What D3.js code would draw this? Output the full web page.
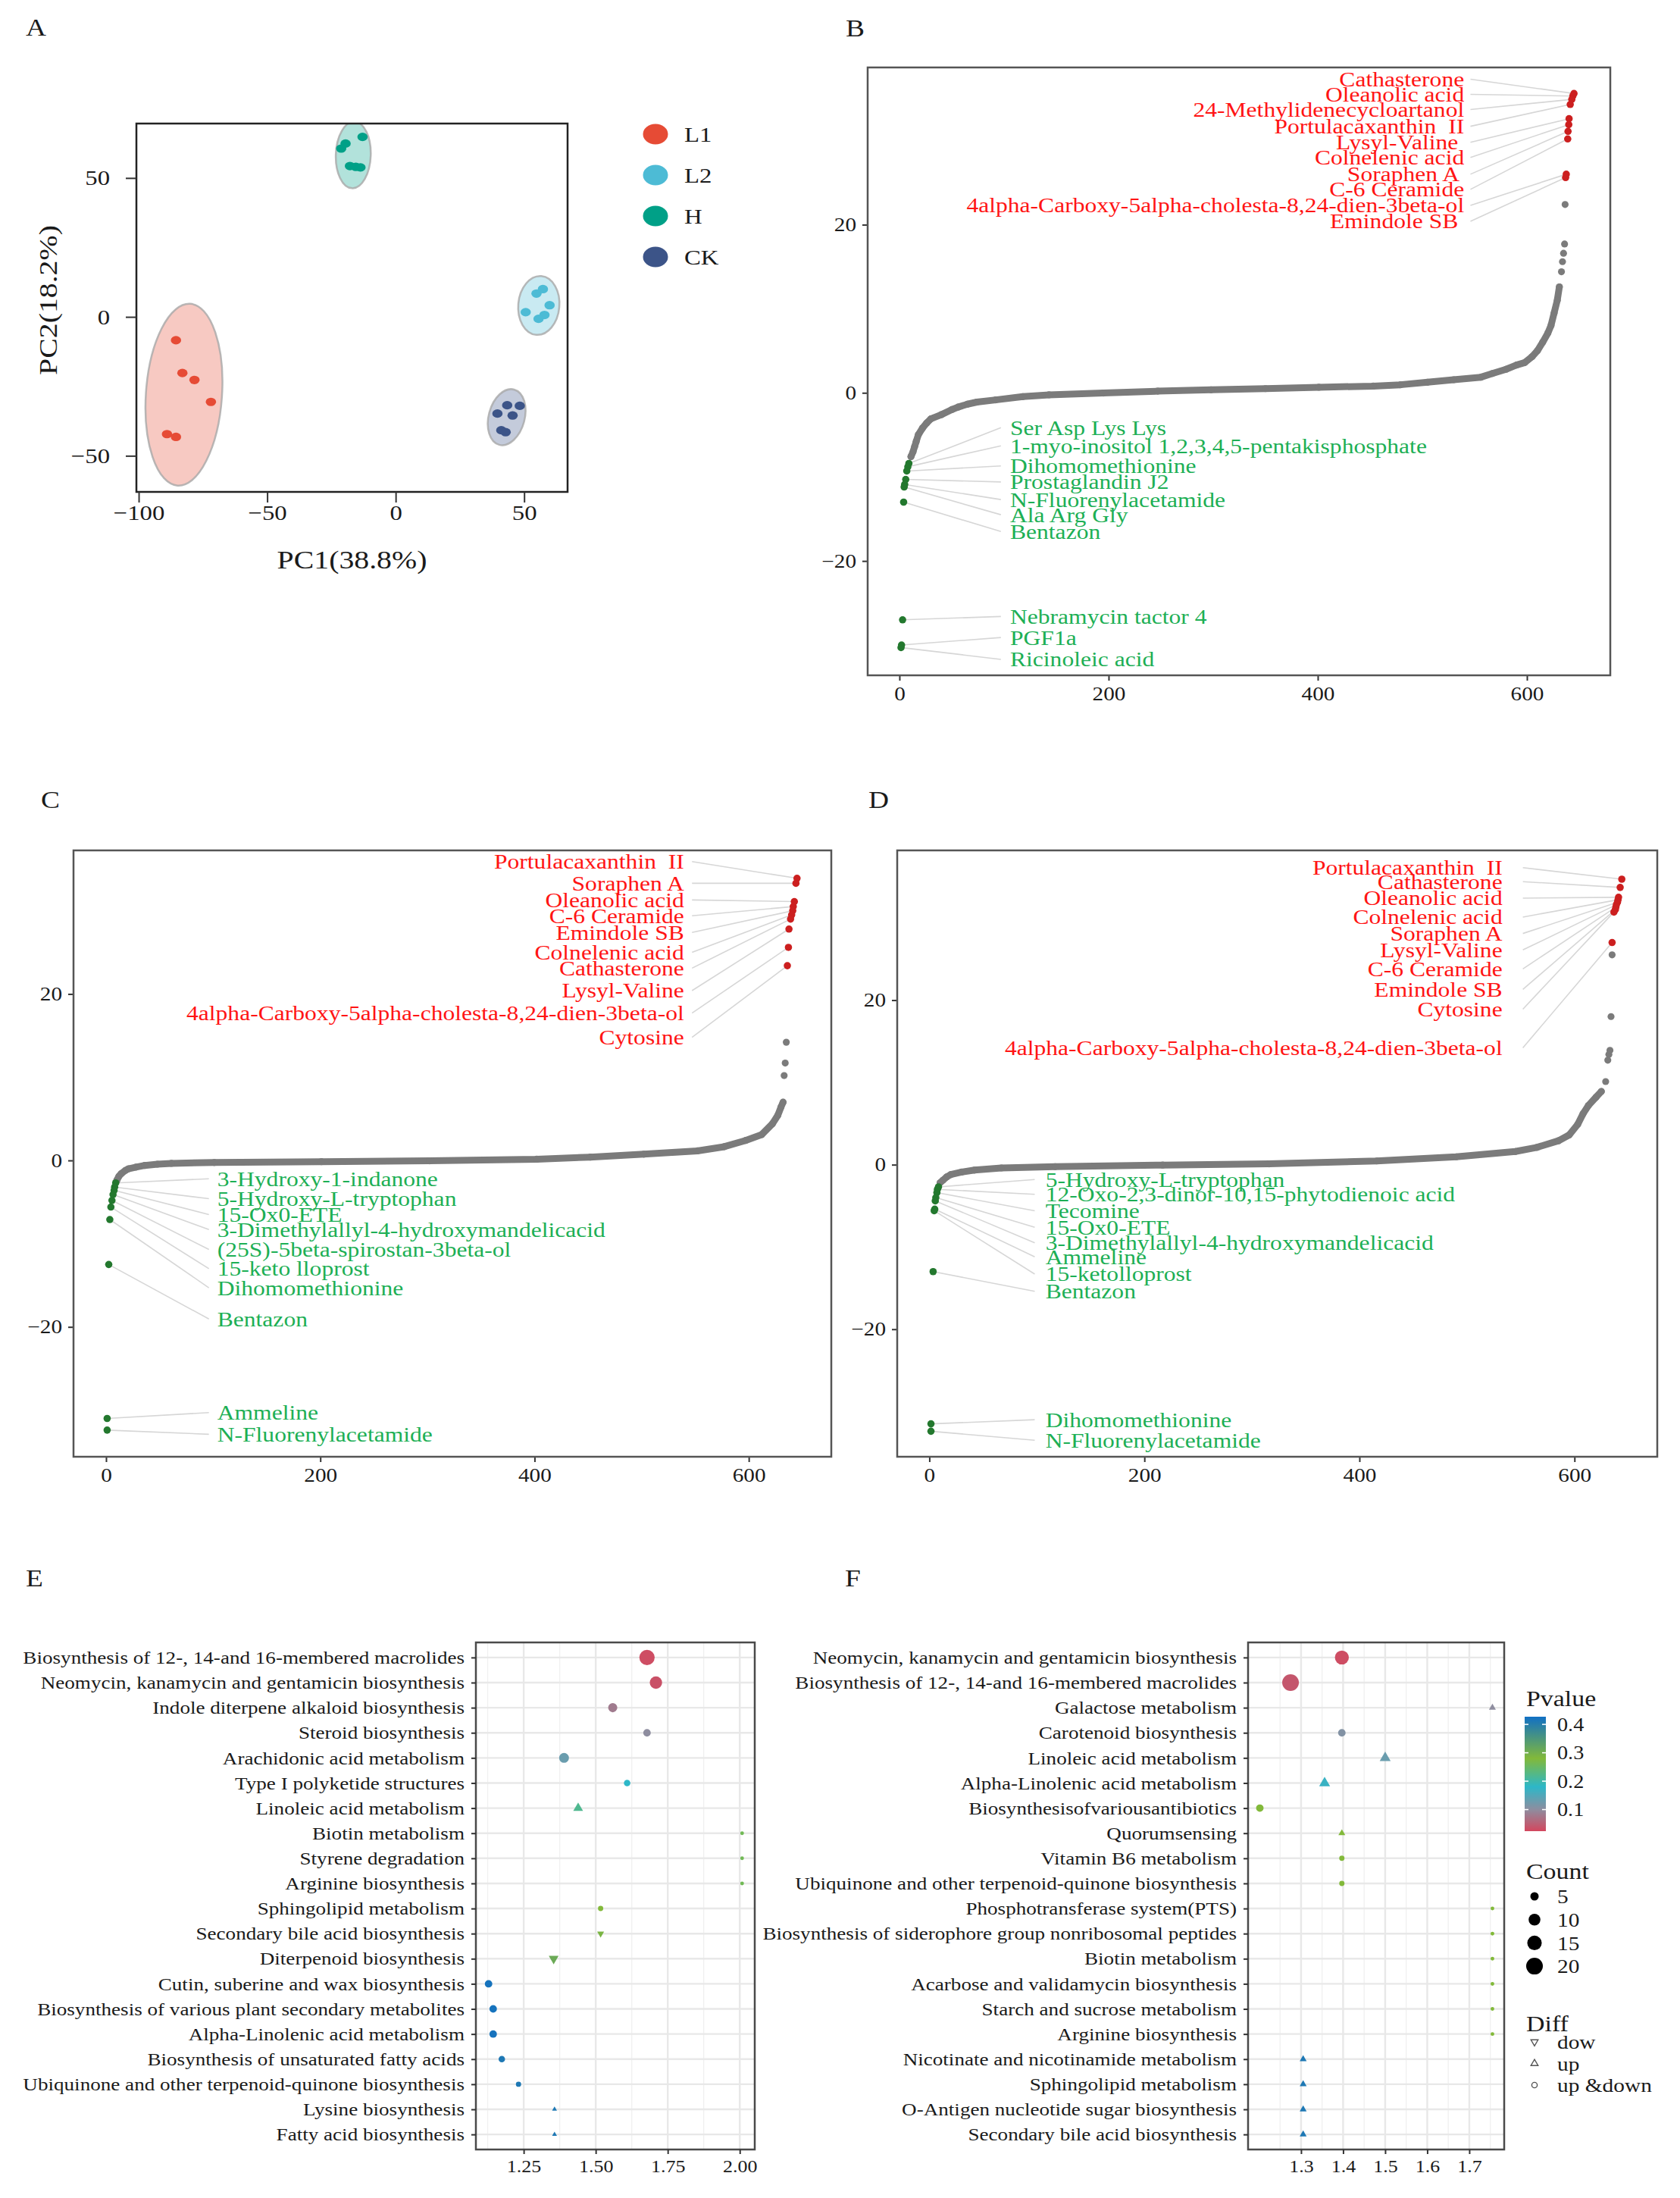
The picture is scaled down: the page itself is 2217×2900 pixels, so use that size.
<!DOCTYPE html>
<html lang="en">
<head>
<meta charset="utf-8">
<title>Metabolite PCA, fold-change ranks and pathway enrichment</title>
<style>
  body { margin: 0; background: #ffffff; }
  svg text { font-family: "Liberation Serif", "Times New Roman", Times, serif; white-space: pre; }
</style>
</head>
<body>
<div id="fig"></div>
<script src="https://cdn.jsdelivr.net/npm/d3@7"></script>
<script>

// ---------- data: panel A (PCA) ----------
var pcaGroups = ["L1", "L2", "H", "CK"];
var pcaColors = ["#E64B35", "#4DBBD5", "#00A087", "#3C5488"];
// [group, PC1, PC2]
var pcaSamples = [
  ["L1", -85.5, -8.4], ["L1", -83.0, -20.2], ["L1", -78.3, -22.7], ["L1", -71.9, -30.6], ["L1", -89.0, -42.2], ["L1", -85.5, -43.2],
  ["H", -21.2, 60.6], ["H", -19.5, 62.4], ["H", -12.9, 64.8], ["H", -17.8, 54.3], ["H", -15.5, 54.0], ["H", -13.7, 53.8],
  ["L2", 54.8, 8.4], ["L2", 57.3, 10.0], ["L2", 50.6, 1.7], ["L2", 59.9, 4.2], ["L2", 57.9, 0.7], ["L2", 55.6, -0.7],
  ["CK", 43.4, -31.8], ["CK", 48.3, -32.0], ["CK", 39.6, -34.8], ["CK", 45.5, -35.5], ["CK", 41.1, -40.8], ["CK", 42.8, -41.5]
];
// confidence ellipses, in group order L1, L2, H, CK
var ellCenterX = [-82.4, 55.7, -16.5, 43.2];
var ellCenterY = [-28.0, 4.1, 58.3, -36.1];
var ellSemiX = [14.8, 8.0, 6.8, 7.0];
var ellSemiY = [32.8, 10.6, 12.0, 10.3];
var ellTilt = [4, 5, 2, 15];
var pcaXTicks = [-100, -50, 0, 50];
var pcaYTicks = [-50, 0, 50];

// ---------- data: panels B, C, D (ranked fold change) ----------
var rankTicks = [0, 200, 400, 600];
var foldTicks = [-20, 0, 20];

var bBand = [[11,-7.6],[13,-7.0],[14.5,-6.4],[16,-5.8],[18,-5.0],[22,-4.2],[26,-3.6],[30,-3.1],[40,-2.6],[50,-2.0],[56,-1.7],[65,-1.35],[74,-1.1],[92,-0.84],[118,-0.45],[143,-0.24],[195,-0.03],[247,0.2],[298,0.36],[350,0.5],[401,0.66],[453,0.8],[479,0.96],[505,1.26],[530,1.56],[556,1.86],[567,2.3],[580,2.8],[590,3.3],[598,3.6],[605,4.3],[610,5.0],[615,6.0],[620,7.1],[623,8.0],[626,9.5],[629,11.0],[631,12.6]];
var bLoose = [[633,14.4],[634,15.6],[635,16.6],[636,17.7],[636.5,22.4]];
var bUpNames = ["Cathasterone", "Oleanolic acid", "24-Methylidenecycloartanol", "Portulacaxanthin  II", "Lysyl-Valine ", "Colnelenic acid", "Soraphen A ", "C-6 Ceramide", "4alpha-Carboxy-5alpha-cholesta-8,24-dien-3beta-ol", "Emindole SB "];
var bUpRank = [645, 643.9, 642.9, 641.4, 640.3, 640, 639.3, 639, 637.6, 637];
var bUpValue = [35.6, 35.3, 34.9, 34.3, 32.6, 31.9, 31.1, 30.2, 26.0, 25.6];
var bDownNames = ["Ser Asp Lys Lys", "1-myo-inositol 1,2,3,4,5-pentakisphosphate", "Dihomomethionine", "Prostaglandin J2", "N-Fluorenylacetamide", "Ala Arg Gly", "Bentazon", "Nebramycin tactor 4", "PGF1a", "Ricinoleic acid"];
var bDownRank = [9, 8, 7, 6, 5, 4.5, 4, 3, 2, 1.5];
var bDownValue = [-8.4, -8.8, -9.3, -10.3, -10.9, -11.2, -13.0, -27.0, -30.0, -30.3];

var cBand = [[10,-2.4],[12,-1.9],[14,-1.6],[18,-1.2],[21,-1.0],[28,-0.8],[36,-0.6],[48,-0.45],[61,-0.35],[101,-0.25],[201,-0.15],[302,-0.05],[402,0.15],[452,0.4],[502,0.75],[552,1.15],[577,1.65],[597,2.4],[612,3.1],[622,4.4],[627,5.4],[630,6.4],[632,7.0]];
var cLoose = [[633,10.2],[634,11.7],[635,14.2]];
var cUpNames = ["Portulacaxanthin  II", "Soraphen A", "Oleanolic acid", "C-6 Ceramide", "Emindole SB", "Colnelenic acid", "Cathasterone", "Lysyl-Valine", "4alpha-Carboxy-5alpha-cholesta-8,24-dien-3beta-ol", "Cytosine"];
var cUpRank = [645, 644, 642.5, 641.5, 641, 640, 639, 637.5, 637, 636];
var cUpValue = [33.9, 33.3, 31.1, 30.5, 30.0, 29.5, 29.0, 27.8, 25.6, 23.4];
var cDownNames = ["3-Hydroxy-1-indanone", "5-Hydroxy-L-tryptophan", "15-Ox0-ETE", "3-Dimethylallyl-4-hydroxymandelicacid", "(25S)-5beta-spirostan-3beta-ol", "15-keto lloprost", "Dihomomethionine", "Bentazon", "Ammeline", "N-Fluorenylacetamide"];
var cDownRank = [9, 8, 7.5, 6.5, 5.5, 4.5, 3.5, 2.5, 1, 1];
var cDownValue = [-2.7, -3.2, -3.6, -4.1, -4.8, -5.6, -7.1, -12.5, -31.0, -32.4];

var dBand = [[10,-2.2],[12.5,-1.9],[16,-1.5],[20,-1.2],[30,-0.9],[42,-0.66],[67,-0.4],[117,-0.25],[217,-0.05],[316,0.1],[416,0.45],[490,0.96],[545,1.6],[565,2.1],[585,2.9],[595,3.6],[603,4.9],[608,6.2],[613,7.2],[620,8.2],[625,8.9]];
var dLoose = [[629,10.1],[631,12.7],[632,13.4],[633,13.9],[634,18.0],[635,25.5]];
var dUpNames = ["Portulacaxanthin  II", "Cathasterone", "Oleanolic acid", "Colnelenic acid", "Soraphen A", "Lysyl-Valine", "C-6 Ceramide", "Emindole SB", "Cytosine", "4alpha-Carboxy-5alpha-cholesta-8,24-dien-3beta-ol"];
var dUpRank = [644, 642.5, 641, 640.5, 640, 639, 638.5, 638, 636.7, 635];
var dUpValue = [34.7, 33.7, 32.5, 32.2, 31.9, 31.6, 31.3, 31.0, 30.7, 27.0];
var dDownNames = ["5-Hydroxy-L-tryptophan", "12-Oxo-2,3-dinor-10,15-phytodienoic acid", "Tecomine", "15-Ox0-ETE", "3-Dimethylallyl-4-hydroxymandelicacid", "Ammeline", "15-ketolloprost", "Bentazon", "Dihomomethionine", "N-Fluorenylacetamide"];
var dDownRank = [8.5, 7.5, 7, 6, 5.5, 5, 4.5, 3.5, 1.5, 1.5];
var dDownValue = [-2.7, -3.0, -3.4, -4.0, -4.4, -5.4, -5.6, -13.0, -31.5, -32.4];

// label placement (repel layout, in data units of each panel)
var bUpLabelY = [37.3, 35.5, 33.7, 31.7, 29.8, 28.0, 26.0, 24.2, 22.3, 20.4];
var bDownLabelY = [-4.15, -6.3, -8.7, -10.6, -12.7, -14.5, -16.5, -26.6, -29.1, -31.7];
var cUpLabelY = [35.9, 33.3, 31.3, 29.4, 27.4, 25.0, 23.1, 20.4, 17.7, 14.8];
var cDownLabelY = [-2.2, -4.6, -6.5, -8.3, -10.7, -13.0, -15.3, -19.05, -30.3, -32.9];
var dUpLabelY = [36.1, 34.4, 32.4, 30.1, 28.1, 26.1, 23.8, 21.3, 18.9, 14.2];
var dDownLabelY = [-1.8, -3.6, -5.6, -7.6, -9.5, -11.2, -13.3, -15.4, -31.0, -33.5];

// ---------- data: panels E, F (enrichment) ----------
var eTerms = ["Biosynthesis of 12-, 14-and 16-membered macrolides", "Neomycin, kanamycin and gentamicin biosynthesis", "Indole diterpene alkaloid biosynthesis", "Steroid biosynthesis", "Arachidonic acid metabolism", "Type I polyketide structures", "Linoleic acid metabolism", "Biotin metabolism", "Styrene degradation", "Arginine biosynthesis", "Sphingolipid metabolism", "Secondary bile acid biosynthesis", "Diterpenoid biosynthesis", "Cutin, suberine and wax biosynthesis", "Biosynthesis of various plant secondary metabolites", "Alpha-Linolenic acid metabolism", "Biosynthesis of unsaturated fatty acids", "Ubiquinone and other terpenoid-quinone biosynthesis", "Lysine biosynthesis", "Fatty acid biosynthesis"];
var eEnrich = [1.678, 1.709, 1.559, 1.678, 1.390, 1.609, 1.439, 2.008, 2.008, 2.008, 1.517, 1.517, 1.354, 1.128, 1.144, 1.144, 1.174, 1.232, 1.357, 1.357];
var eCount = [17, 11, 6, 4, 7, 3, 4, 1, 1, 1, 2, 2, 4, 4, 4, 4, 3, 2, 1, 1];
var ePvalue = [0.03, 0.035, 0.08, 0.10, 0.13, 0.18, 0.22, 0.26, 0.26, 0.26, 0.28, 0.29, 0.31, 0.42, 0.42, 0.42, 0.41, 0.41, 0.41, 0.41];
var eDiff = ["up &down", "up &down", "up &down", "up &down", "up &down", "up &down", "up", "up &down", "up &down", "up &down", "up &down", "dow", "dow", "up &down", "up &down", "up &down", "up &down", "up &down", "up", "up"];

var fTerms = ["Neomycin, kanamycin and gentamicin biosynthesis", "Biosynthesis of 12-, 14-and 16-membered macrolides", "Galactose metabolism", "Carotenoid biosynthesis", "Linoleic acid metabolism", "Alpha-Linolenic acid metabolism", "Biosynthesisofvariousantibiotics", "Quorumsensing", "Vitamin B6 metabolism", "Ubiquinone and other terpenoid-quinone biosynthesis", "Phosphotransferase system(PTS)", "Biosynthesis of siderophore group nonribosomal peptides", "Biotin metabolism", "Acarbose and validamycin biosynthesis", "Starch and sucrose metabolism", "Arginine biosynthesis", "Nicotinate and nicotinamide metabolism", "Sphingolipid metabolism", "O-Antigen nucleotide sugar biosynthesis", "Secondary bile acid biosynthesis"];
var fEnrich = [1.397, 1.275, 1.755, 1.397, 1.500, 1.356, 1.202, 1.397, 1.397, 1.397, 1.755, 1.755, 1.755, 1.755, 1.755, 1.755, 1.305, 1.305, 1.305, 1.305];
var fCount = [14, 20, 2, 4, 5, 5, 4, 2, 2, 2, 1, 1, 1, 1, 1, 1, 2, 2, 2, 2];
var fPvalue = [0.03, 0.04, 0.10, 0.11, 0.13, 0.17, 0.28, 0.28, 0.28, 0.28, 0.28, 0.28, 0.28, 0.28, 0.28, 0.28, 0.41, 0.41, 0.41, 0.41];
var fDiff = ["up &down", "up &down", "up", "up &down", "up", "up", "up &down", "up", "up &down", "up &down", "up &down", "up &down", "up &down", "up &down", "up &down", "up &down", "up", "up", "up", "up"];

var eTicks = [1.25, 1.50, 1.75, 2.00];
var fTicks = [1.3, 1.4, 1.5, 1.6, 1.7];
var pStops = [0.024, 0.1, 0.18, 0.28, 0.427];
var pColors = ["#D3475E", "#8E8D9F", "#2DB7C8", "#82B93A", "#1170C4"];
var pLegendTicks = [0.1, 0.2, 0.3, 0.4];
var countLegend = [5, 10, 15, 20];
var diffLevels = ["dow", "up", "up &down"];

// ---------- drawing ----------
var W = 2217, H = 2900, SX = 1.17, SX_EF = 1.13;
var INK = "#1a1a1a", GRAY = "#7b7b7b", RED_PT = "#CC1F1F", GREEN_PT = "#23782E";
var RED_TX = "#FF1414", GREEN_TX = "#1DAF55", LEADER = "#d6d6d6";

var svg = d3.select("#fig").append("svg")
    .attr("width", W).attr("height", H)
    .attr("viewBox", "0 0 " + W + " " + H);
svg.append("rect").attr("width", W).attr("height", H).attr("fill", "#ffffff");

function label(parent, x, y, str, size, fill, anchor, sx) {
  return parent.append("text")
      .attr("transform", "translate(" + x + "," + y + ") scale(" + (sx || SX) + ",1)")
      .attr("text-anchor", anchor || "start")
      .attr("dy", "0.35em")
      .attr("font-size", size)
      .attr("fill", fill || INK)
      .text(str);
}

function styleAxis(g, size, sx) {
  sx = sx || SX;
  g.attr("font-family", null).attr("font-size", null);
  g.select(".domain").remove();
  g.selectAll(".tick line").attr("stroke", "#333").attr("stroke-width", 2);
  g.selectAll(".tick text")
      .attr("font-size", size).attr("fill", INK)
      .each(function() {
        var t = d3.select(this);
        var x = +t.attr("x") || 0;
        t.attr("x", x / sx).attr("transform", "scale(" + sx + ",1)");
      });
}

// panel letters
[["A", 34, 36], ["B", 1116, 37], ["C", 54, 1055], ["D", 1146, 1055], ["E", 34, 2082], ["F", 1115, 2082]]
  .forEach(function(l) { label(svg, l[1], l[2], l[0], 32); });

// ===== Panel A =====
(function() {
  var left = 180, right = 749, top = 163, bottom = 649;
  var x = d3.scaleLinear().domain([-100.9, 66.9]).range([left, right]);
  var y = d3.scaleLinear().domain([-63, 69.6]).range([bottom, top]);
  var color = d3.scaleOrdinal().domain(pcaGroups).range(pcaColors);
  var g = svg.append("g");

  g.append("clipPath").attr("id", "clipA").append("rect")
      .attr("x", left).attr("y", top).attr("width", right - left).attr("height", bottom - top);
  var plot = g.append("g").attr("clip-path", "url(#clipA)");

  plot.selectAll("ellipse.conf").data(pcaGroups).enter().append("ellipse")
      .attr("class", "conf")
      .attr("cx", function(d, i) { return x(ellCenterX[i]); })
      .attr("cy", function(d, i) { return y(ellCenterY[i]); })
      .attr("rx", function(d, i) { return x(ellCenterX[i] + ellSemiX[i]) - x(ellCenterX[i]); })
      .attr("ry", function(d, i) { return y(ellCenterY[i]) - y(ellCenterY[i] + ellSemiY[i]); })
      .attr("transform", function(d, i) { return "rotate(" + ellTilt[i] + "," + x(ellCenterX[i]) + "," + y(ellCenterY[i]) + ")"; })
      .attr("fill", function(d) { return color(d); })
      .attr("fill-opacity", 0.3)
      .attr("stroke", "#a8a8a8").attr("stroke-width", 2.5).attr("stroke-opacity", 0.8);

  plot.selectAll("ellipse.pt").data(pcaSamples).enter().append("ellipse")
      .attr("class", "pt")
      .attr("cx", function(d) { return x(d[1]); })
      .attr("cy", function(d) { return y(d[2]); })
      .attr("rx", 6.8).attr("ry", 5.6)
      .attr("fill", function(d) { return color(d[0]); });

  g.append("rect").attr("x", left).attr("y", top).attr("width", right - left).attr("height", bottom - top)
      .attr("fill", "none").attr("stroke", "#222").attr("stroke-width", 2.5);

  var ax = g.append("g").attr("transform", "translate(0," + bottom + ")")
      .call(d3.axisBottom(x).tickValues(pcaXTicks).tickSize(14).tickPadding(3));
  styleAxis(ax, 28);
  var ay = g.append("g").attr("transform", "translate(" + left + ",0)")
      .call(d3.axisLeft(y).tickValues(pcaYTicks).tickSize(14).tickPadding(21));
  styleAxis(ay, 28);

  label(g, (left + right) / 2, 738, "PC1(38.8%)", 34, INK, "middle");
  g.append("text")
      .attr("transform", "translate(63," + ((top + bottom) / 2 - 10) + ") rotate(-90) scale(" + SX + ",1)")
      .attr("text-anchor", "middle").attr("dy", "0.35em")
      .attr("font-size", 34).attr("fill", INK)
      .text("PC2(18.2%)");

  var leg = g.append("g");
  pcaGroups.forEach(function(grp, i) {
    var ly = 177 + i * 54;
    leg.append("ellipse").attr("cx", 865).attr("cy", ly).attr("rx", 16.5).attr("ry", 13.5)
        .attr("fill", color(grp));
    label(leg, 903, ly, grp, 28);
  });
})();

// ===== Panels B, C, D =====
function drawRank(p) {
  var x = d3.scaleLinear().domain(p.xDomain).range([p.left, p.right]);
  var y = d3.scaleLinear().domain(p.yDomain).range([p.bottom, p.top]);
  var g = svg.append("g");

  var ax = g.append("g").attr("transform", "translate(0," + p.bottom + ")")
      .call(d3.axisBottom(x).tickValues(rankTicks).tickSize(7).tickPadding(8));
  styleAxis(ax, 25);
  var ay = g.append("g").attr("transform", "translate(" + p.left + ",0)")
      .call(d3.axisLeft(y).tickValues(foldTicks).tickSize(7).tickPadding(8));
  styleAxis(ay, 25);

  var up = p.upNames.map(function(n, i) { return { name: n, rank: p.upRank[i], value: p.upValue[i], ly: p.upLabelY[i] }; });
  var down = p.downNames.map(function(n, i) { return { name: n, rank: p.downRank[i], value: p.downValue[i], ly: p.downLabelY[i] }; });

  // leader lines
  g.selectAll("line.up").data(up).enter().append("line")
      .attr("x1", x(p.upLineRank)).attr("y1", function(d) { return y(d.ly); })
      .attr("x2", function(d) { return x(d.rank); }).attr("y2", function(d) { return y(d.value); })
      .attr("stroke", LEADER).attr("stroke-width", 1.6);
  g.selectAll("line.down").data(down).enter().append("line")
      .attr("x1", x(p.downLineRank)).attr("y1", function(d) { return y(d.ly); })
      .attr("x2", function(d) { return x(d.rank); }).attr("y2", function(d) { return y(d.value); })
      .attr("stroke", LEADER).attr("stroke-width", 1.6);

  // dense band of unchanged metabolites
  g.append("path").datum(p.band)
      .attr("d", d3.line().x(function(d) { return x(d[0]); }).y(function(d) { return y(d[1]); }))
      .attr("fill", "none").attr("stroke", GRAY).attr("stroke-width", 9)
      .attr("stroke-linecap", "round").attr("stroke-linejoin", "round");
  g.selectAll("circle.gray").data(p.band.concat(p.loose)).enter().append("circle")
      .attr("cx", function(d) { return x(d[0]); }).attr("cy", function(d) { return y(d[1]); })
      .attr("r", 4.6).attr("fill", GRAY);

  g.selectAll("circle.up").data(up).enter().append("circle")
      .attr("cx", function(d) { return x(d.rank); }).attr("cy", function(d) { return y(d.value); })
      .attr("r", 4.8).attr("fill", RED_PT);
  g.selectAll("circle.down").data(down).enter().append("circle")
      .attr("cx", function(d) { return x(d.rank); }).attr("cy", function(d) { return y(d.value); })
      .attr("r", 4.8).attr("fill", GREEN_PT);

  up.forEach(function(d) { label(g, x(p.upTextRank), y(d.ly), d.name, 27, RED_TX, "end"); });
  down.forEach(function(d) { label(g, x(p.downTextRank), y(d.ly), d.name, 27, GREEN_TX, "start"); });

  g.append("rect").attr("x", p.left).attr("y", p.top).attr("width", p.right - p.left).attr("height", p.bottom - p.top)
      .attr("fill", "none").attr("stroke", "#555").attr("stroke-width", 2.5);
}

drawRank({ left: 1145, right: 2125, top: 89, bottom: 891, xDomain: [-30.4, 679.7], yDomain: [-33.6, 38.7],
  band: bBand, loose: bLoose,
  upNames: bUpNames, upRank: bUpRank, upValue: bUpValue, upLabelY: bUpLabelY,
  downNames: bDownNames, downRank: bDownRank, downValue: bDownValue, downLabelY: bDownLabelY,
  upTextRank: 540, upLineRank: 546, downTextRank: 105.8, downLineRank: 97 });

drawRank({ left: 97, right: 1097, top: 1122, bottom: 1922, xDomain: [-30.4, 677], yDomain: [-35.6, 37.25],
  band: cBand, loose: cLoose,
  upNames: cUpNames, upRank: cUpRank, upValue: cUpValue, upLabelY: cUpLabelY,
  downNames: cDownNames, downRank: cDownRank, downValue: cDownValue, downLabelY: cDownLabelY,
  upTextRank: 539.6, upLineRank: 547, downTextRank: 103.8, downLineRank: 96 });

drawRank({ left: 1184, right: 2187, top: 1122, bottom: 1922, xDomain: [-29.9, 677], yDomain: [-35.5, 38.2],
  band: dBand, loose: dLoose,
  upNames: dUpNames, upRank: dUpRank, upValue: dUpValue, upLabelY: dUpLabelY,
  downNames: dDownNames, downRank: dDownRank, downValue: dDownValue, downLabelY: dDownLabelY,
  upTextRank: 533, upLineRank: 552, downTextRank: 108, downLineRank: 98 });

// ===== Panels E, F =====
var pColor = d3.scaleLinear().domain(pStops).range(pColors).interpolate(d3.interpolateRgb);
var rSize = d3.scaleSqrt().domain([0, 20]).range([0, 11]);

function marker(diff, r) {
  if (diff === "up &down") return d3.symbol().type(d3.symbolCircle).size(Math.PI * r * r)();
  return d3.symbol().type(d3.symbolTriangle).size(Math.PI * r * r * 0.95)();
}

function drawEnrich(p) {
  var x = d3.scaleLinear().domain(p.xDomain).range([p.left, p.right]);
  var y = d3.scalePoint().domain(p.terms).range([p.top, p.bottom]).padding(0.6);
  var g = svg.append("g");

  var step = p.ticks[1] - p.ticks[0];
  var minor = p.ticks.map(function(t) { return t - step / 2; }).concat([p.ticks[p.ticks.length - 1] + step / 2])
      .filter(function(t) { return t > p.xDomain[0] && t < p.xDomain[1]; });

  g.selectAll("line.minor").data(minor).enter().append("line")
      .attr("x1", function(d) { return x(d); }).attr("x2", function(d) { return x(d); })
      .attr("y1", p.top).attr("y2", p.bottom)
      .attr("stroke", "#f0f0f0").attr("stroke-width", 1.3);
  g.selectAll("line.vmajor").data(p.ticks).enter().append("line")
      .attr("x1", function(d) { return x(d); }).attr("x2", function(d) { return x(d); })
      .attr("y1", p.top).attr("y2", p.bottom)
      .attr("stroke", "#e8e8e8").attr("stroke-width", 2.4);
  g.selectAll("line.hmajor").data(p.terms).enter().append("line")
      .attr("x1", p.left).attr("x2", p.right)
      .attr("y1", function(d) { return y(d); }).attr("y2", function(d) { return y(d); })
      .attr("stroke", "#e8e8e8").attr("stroke-width", 2.4);

  var rows = p.terms.map(function(t, i) {
    return { term: t, x: p.enrich[i], count: p.count[i], pv: p.pvalue[i], diff: p.diff[i] };
  });
  // draw small markers last so they stay visible
  g.selectAll("path.pt").data(rows.slice().sort(function(a, b) { return b.count - a.count; })).enter().append("path")
      .attr("d", function(d) { return marker(d.diff, rSize(d.count)); })
      .attr("transform", function(d) {
        return "translate(" + x(d.x) + "," + y(d.term) + ")" + (d.diff === "dow" ? " rotate(180)" : "");
      })
      .attr("fill", function(d) { return pColor(d.pv); });

  g.append("rect").attr("x", p.left).attr("y", p.top).attr("width", p.right - p.left).attr("height", p.bottom - p.top)
      .attr("fill", "none").attr("stroke", "#4a4a4a").attr("stroke-width", 2.5);

  var ax = g.append("g").attr("transform", "translate(0," + p.bottom + ")")
      .call(d3.axisBottom(x).tickValues(p.ticks).tickSize(6).tickPadding(8).tickFormat(d3.format(p.fmt)));
  styleAxis(ax, 23, SX_EF);
  var ay = g.append("g").attr("transform", "translate(" + p.left + ",0)")
      .call(d3.axisLeft(y).tickSize(6).tickPadding(9));
  styleAxis(ay, 24, SX_EF);
}

drawEnrich({ left: 628, right: 996, top: 2167, bottom: 2836, xDomain: [1.084, 2.052], ticks: eTicks, fmt: ".2f",
  terms: eTerms, enrich: eEnrich, count: eCount, pvalue: ePvalue, diff: eDiff });
drawEnrich({ left: 1647, right: 1985, top: 2167, bottom: 2836, xDomain: [1.174, 1.783], ticks: fTicks, fmt: ".1f",
  terms: fTerms, enrich: fEnrich, count: fCount, pvalue: fPvalue, diff: fDiff });

// ===== legends for E/F =====
(function() {
  var g = svg.append("g");
  var lx = 2014;
  label(g, lx, 2240, "Pvalue", 30, INK, "start", SX_EF);

  var barTop = 2265, barBottom = 2416, barLeft = 2012, barW = 28;
  var by = d3.scaleLinear().domain([pStops[0], pStops[pStops.length - 1]]).range([barBottom, barTop]);
  var grad = g.append("defs").append("linearGradient").attr("id", "pgrad")
      .attr("x1", 0).attr("y1", 1).attr("x2", 0).attr("y2", 0);
  pStops.forEach(function(s, i) {
    grad.append("stop")
        .attr("offset", (s - pStops[0]) / (pStops[pStops.length - 1] - pStops[0]))
        .attr("stop-color", pColors[i]);
  });
  g.append("rect").attr("x", barLeft).attr("y", barTop).attr("width", barW).attr("height", barBottom - barTop)
      .attr("fill", "url(#pgrad)");
  pLegendTicks.forEach(function(t) {
    g.append("line").attr("x1", barLeft).attr("x2", barLeft + 5).attr("y1", by(t)).attr("y2", by(t))
        .attr("stroke", "#fff").attr("stroke-width", 1.5);
    g.append("line").attr("x1", barLeft + barW - 5).attr("x2", barLeft + barW).attr("y1", by(t)).attr("y2", by(t))
        .attr("stroke", "#fff").attr("stroke-width", 1.5);
    label(g, 2055, by(t), d3.format(".1f")(t), 25, INK, "start", SX_EF);
  });

  label(g, lx, 2468, "Count", 30, INK, "start", SX_EF);
  countLegend.forEach(function(c, i) {
    var cy = 2502 + i * 30.7;
    g.append("circle").attr("cx", 2025).attr("cy", cy).attr("r", rSize(c)).attr("fill", "#000");
    label(g, 2055, cy, String(c), 26, INK, "start", SX_EF);
  });

  label(g, lx, 2669, "Diff", 30, INK, "start", SX_EF);
  diffLevels.forEach(function(dv, i) {
    var cy = 2694 + i * 28.5;
    g.append("path").attr("d", marker(dv, 3.6))
        .attr("transform", "translate(2025," + cy + ")" + (dv === "dow" ? " rotate(180)" : ""))
        .attr("fill", "none").attr("stroke", "#555").attr("stroke-width", 1.4);
    label(g, 2055, cy, dv, 26, INK, "start", SX_EF);
  });
})();

</script>
</body>
</html>
